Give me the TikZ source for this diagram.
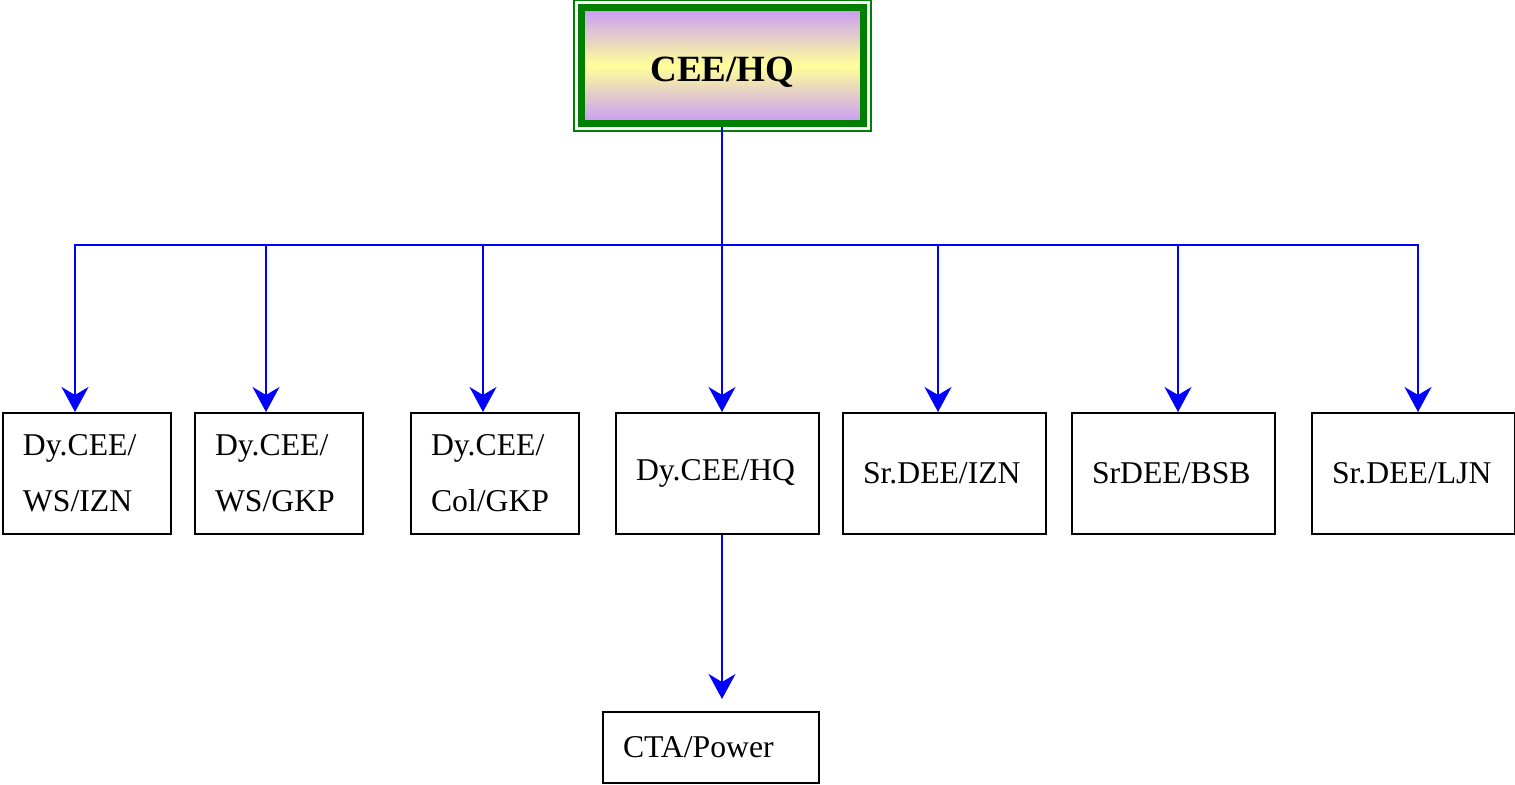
\documentclass[tikz,border=0pt]{standalone}
\usepackage{fontspec}
\setmainfont{Liberation Serif}
\usetikzlibrary{arrows.meta}
\definecolor{hqgreen}{HTML}{008000}
\definecolor{hqpurple}{HTML}{C999FA}
\definecolor{hqyellow}{HTML}{FFFF99}
\tikzset{hq/.style = {draw=hqgreen, line width=3.5pt, minimum width=141pt, minimum height=58pt,
                      top color=hqpurple, bottom color=hqpurple, middle color=hqyellow,
                      text height=16pt, text depth=0pt,
                      font=\bfseries\fontsize{18.5}{22}\selectfont},
         frame/.style = {draw=hqgreen, line width=0.75pt},
         post/.style = {draw, line width=1pt, inner xsep=10pt, align=left,
                        font=\fontsize{15.85}{28}\selectfont},
         link/.style = {draw=blue, line width=1pt},
         arr/.style = {link, -{Stealth[length=12.5pt, width=13.5pt, inset=4pt]}}}
\begin{document}
\begin{tikzpicture}[x=0.5pt, y=-0.5pt]
    \useasboundingbox (0,0) rectangle (1515,785);
    \node[hq] (hq) at (722.5,65.5) {CEE/HQ};
    \draw[frame] ([shift={(-2pt,2pt)}]hq.north west) rectangle ([shift={(2pt,-2pt)}]hq.south east);
    \node[post, text width=64pt, minimum height=60.5pt] (ws1) at (87,473.5) {Dy.CEE/\\WS/IZN};
    \node[post, text width=64pt, minimum height=60.5pt] (ws2) at (279,473.5) {Dy.CEE/\\WS/GKP};
    \node[post, text width=64pt, minimum height=60.5pt] (col) at (495,473.5) {Dy.CEE/\\Col/GKP};
    \node[post, text width=81.5pt, minimum height=60.5pt] (dyhq) at (717.5,473.5) {Dy.CEE/HQ};
    \node[post, text width=81.5pt, minimum height=60.5pt] (izn) at (944.5,473.5) {Sr.DEE/IZN};
    \node[post, text width=81.5pt, minimum height=60.5pt] (bsb) at (1173.5,473.5) {SrDEE/BSB};
    \node[post, text width=81.5pt, minimum height=60.5pt] (ljn) at (1413.5,473.5) {Sr.DEE/LJN};
    \node[post, text width=88pt, minimum height=35.5pt] (cta) at (711,747.5) {CTA/Power};
    \coordinate (bus) at (722,245);
    \draw[link] (hq.south -| bus) -- (bus);
    \draw[arr] (bus) -| ([xshift=-6pt]ws1.north);
    \draw[arr] (bus) -| ([xshift=-6.5pt]ws2.north);
    \draw[arr] (bus) -| ([xshift=-6pt]col.north);
    \draw[arr] (bus) -| ([xshift=2.25pt]dyhq.north);
    \draw[arr] (bus) -| ([xshift=-3.25pt]izn.north);
    \draw[arr] (bus) -| ([xshift=2.25pt]bsb.north);
    \draw[arr] (bus) -| ([xshift=2.25pt]ljn.north);
    \draw[arr, shorten >=6pt] ([xshift=2.25pt]dyhq.south) -- ([xshift=5.5pt]cta.north);
\end{tikzpicture}
\end{document}
